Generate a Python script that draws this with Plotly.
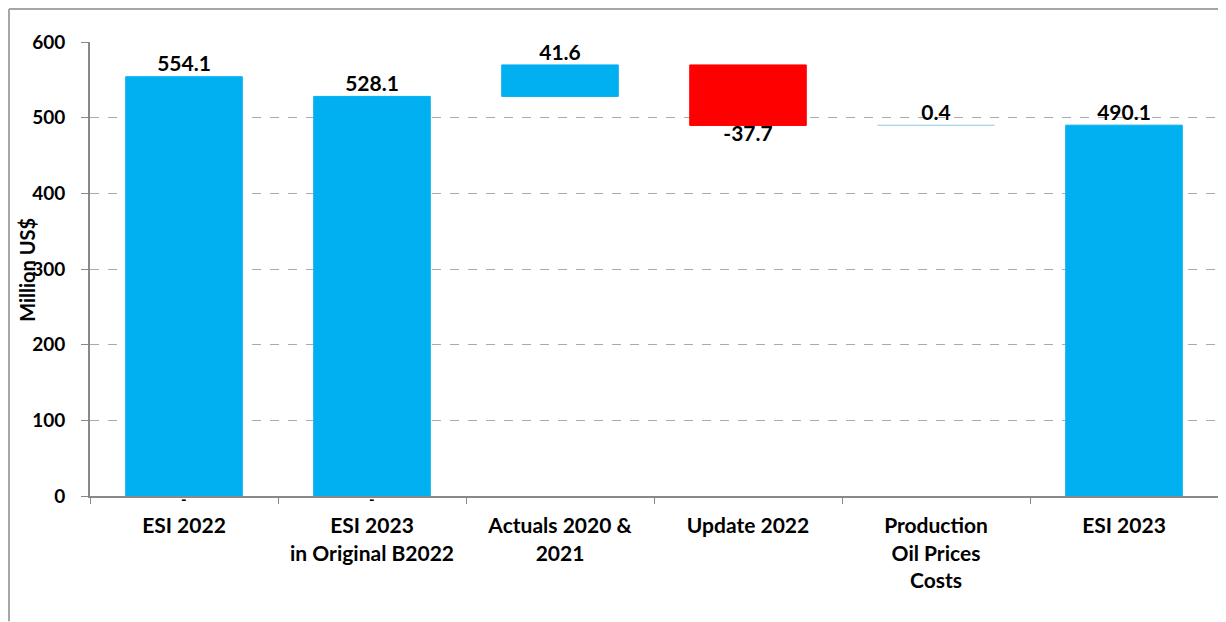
import plotly.graph_objects as go

categories = ["ESI 2022", "ESI 2023<br>in Original B2022", "Actuals 2020 &<br>2021",
              "Update 2022", "Production<br>Oil Prices<br>Costs", "ESI 2023"]
# bar kind: total (from zero) or step (from running level)
kinds = ["total", "total", "step", "step", "step", "total"]
values = [554.1, 528.1, 41.6, -80.0, 0.4, 490.1]
value_labels = ["554.1", "528.1", "41.6", "-37.7", "0.4", "490.1"]
zero_label_cats = ["ESI 2022", "ESI 2023<br>in Original B2022"]
zero_labels = ["-", "-"]

BLUE = "#00B0F0"
RED = "#FF0000"
THIN = "#A9D8EC"

bases, lengths, colors, tops, positions = [], [], [], [], []
level = 0.0
for k, v in zip(kinds, values):
    if k == "total":
        bases.append(0)
        lengths.append(v)
        level = v
        colors.append(BLUE)
        tops.append(v)
        positions.append("top center")
    else:
        bases.append(level)
        lengths.append(v)
        new = level + v
        if abs(v) < 1:
            colors.append(THIN)
        else:
            colors.append(BLUE if v > 0 else RED)
        tops.append(new)
        positions.append("top center" if v >= 0 else "bottom center")
        level = new

FONT = "Lato"
fig = go.Figure()
fig.add_trace(go.Bar(x=categories, y=lengths, base=bases, width=0.62,
                     marker=dict(color=colors, line=dict(color=colors, width=1)),
                     hoverinfo="skip", showlegend=False))
fig.add_trace(go.Scatter(x=categories, y=tops, mode="text", text=value_labels,
                         textposition=positions, cliponaxis=False,
                         textfont=dict(family=FONT, size=21, color="black", weight="bold"),
                         showlegend=False, hoverinfo="skip"))

# page is offset by the 8px body margin
W, H = 1218, 614
L, R, T, B = 82, 8, 34, 125.5
pw, ph = W - L - R, H - T - B

zero_annots = [dict(x=c, y=0, xref="x", yref="y", text=t, showarrow=False,
                    yanchor="middle", yshift=-3,
                    font=dict(family=FONT, size=15, color="black", weight="bold"))
               for c, t in zip(zero_label_cats, zero_labels)]

fig.update_layout(
    width=W, height=H,
    margin=dict(l=L, r=R, t=T, b=B),
    plot_bgcolor="white", paper_bgcolor="white",
    font=dict(family=FONT, size=19, color="black"),
    xaxis=dict(type="category", showline=True, linecolor="#888888", linewidth=2,
               ticks="outside", tickson="boundaries", ticklen=6, tickcolor="#888888",
               ticklabelstandoff=10,
               tickfont=dict(family=FONT, size=21, color="black", weight="bold"),
               showgrid=False),
    yaxis=dict(range=[0, 600], dtick=100, showline=True, linecolor="#888888", linewidth=2,
               ticks="outside", ticklen=7, tickcolor="#888888", ticklabelstandoff=12,
               tickfont=dict(family=FONT, size=19, color="black", weight="bold"),
               showgrid=True, gridcolor="#AAAAAA", griddash="dash", gridwidth=1,
               zeroline=False),
    annotations=[dict(text="Million US$", textangle=-90, xref="paper", yref="paper",
                      x=(19 - L) / pw, y=(H - B - 262) / ph, showarrow=False,
                      xanchor="center", yanchor="middle",
                      font=dict(family=FONT, size=20, color="black", weight="bold"))]
                + zero_annots,
    shapes=[
        dict(type="line", xref="paper", yref="paper", x0=(1 - L) / pw, x1=(1 - L) / pw,
             y0=-B / ph, y1=1 + (T - 1) / ph, line=dict(color="#A6A6A6", width=2)),
        dict(type="line", xref="paper", yref="paper", x0=(1 - L) / pw, x1=(W - L) / pw,
             y0=1 + (T - 1) / ph, y1=1 + (T - 1) / ph, line=dict(color="#A6A6A6", width=2)),
    ],
)
fig.write_html("out.html")
